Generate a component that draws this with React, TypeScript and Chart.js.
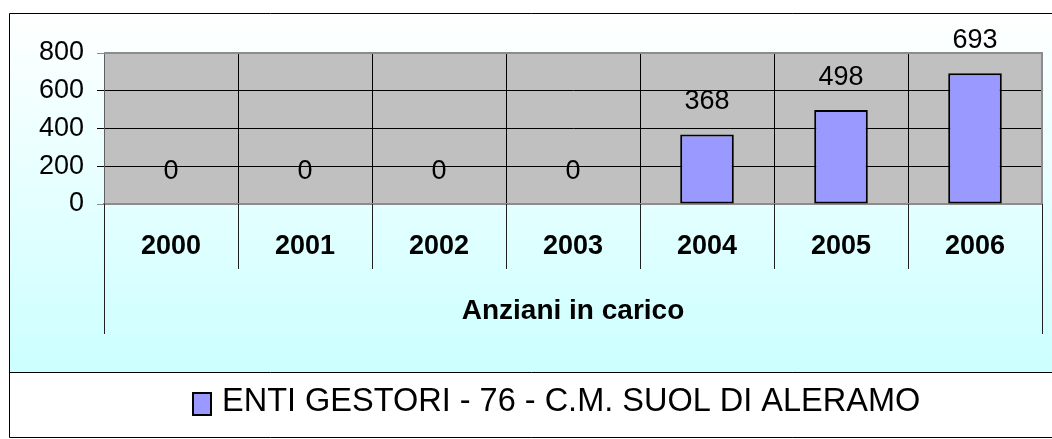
import React, { useEffect, useRef } from "react";
import { Chart, registerables } from "chart.js";

Chart.register(...registerables);

const categories = ["2000", "2001", "2002", "2003", "2004", "2005", "2006"];
const values = [0, 0, 0, 0, 368, 498, 693];
const seriesLabel = "ENTI GESTORI - 76 - C.M. SUOL DI ALERAMO";
const groupTitle = "Anziani in carico";
const yMin = 0;
const yMax = 800;
const yStep = 200;

const FONT = "'Liberation Sans', Arial, Helvetica, sans-serif";
const BAR_FILL = "#9999ff";
const PLOT_FILL = "#c0c0c0";

const framePlugin = {
  id: "frame",
  beforeDraw(chart: any) {
    const { ctx, width, height, chartArea } = chart;
    ctx.save();
    ctx.fillStyle = "#ffffff";
    ctx.fillRect(0, 0, width, height);
    const g = ctx.createLinearGradient(0, 13, 0, 372);
    g.addColorStop(0, "#ffffff");
    g.addColorStop(1, "#ccffff");
    ctx.fillStyle = g;
    ctx.fillRect(9.5, 13.5, width, 372 - 13.5);
    ctx.fillStyle = PLOT_FILL;
    ctx.fillRect(chartArea.left, chartArea.top, chartArea.right - chartArea.left, chartArea.bottom - chartArea.top);
    ctx.restore();
  },
  beforeDatasetsDraw(chart: any) {
    const { ctx, chartArea } = chart;
    ctx.save();
    ctx.strokeStyle = "#8c8c8c";
    ctx.lineWidth = 2;
    ctx.beginPath();
    ctx.moveTo(chartArea.left, chartArea.top);
    ctx.lineTo(chartArea.right, chartArea.top);
    ctx.lineTo(chartArea.right, chartArea.bottom);
    ctx.stroke();
    ctx.restore();
  },
  afterDatasetsDraw(chart: any) {
    const { ctx } = chart;
    const meta = chart.getDatasetMeta(0);
    ctx.save();
    ctx.font = `27px ${FONT}`;
    ctx.fillStyle = "#000";
    ctx.textAlign = "center";
    ctx.textBaseline = "alphabetic";
    meta.data.forEach((bar: any, i: number) => {
      ctx.fillText(String(values[i]), bar.x, bar.y - 25.5);
    });
    ctx.restore();
  },
  afterDraw(chart: any) {
    const { ctx, width, chartArea } = chart;
    const xs = chart.scales.x;
    ctx.save();
    ctx.strokeStyle = "#202020";
    ctx.lineWidth = 1;
    const n = categories.length;
    const bounds: number[] = [];
    for (let i = 0; i <= n; i++) {
      if (i === 0) bounds.push(chartArea.left);
      else if (i === n) bounds.push(chartArea.right);
      else bounds.push((xs.getPixelForValue(i - 1) + xs.getPixelForValue(i)) / 2);
    }
    bounds.forEach((bx, i) => {
      const x = Math.round(bx) + 0.5;
      const bottom = i === 0 || i === n ? 334 : 269;
      ctx.beginPath();
      ctx.moveTo(x, chartArea.bottom);
      ctx.lineTo(x, bottom);
      ctx.stroke();
    });
    ctx.strokeStyle = "#000";
    ctx.beginPath();
    ctx.moveTo(width + 2, 13.5);
    ctx.lineTo(9.5, 13.5);
    ctx.lineTo(9.5, 437.5);
    ctx.lineTo(width + 2, 437.5);
    ctx.moveTo(9.5, 372.5);
    ctx.lineTo(width + 2, 372.5);
    ctx.stroke();
    const ds = chart.data.datasets[0];
    ctx.fillStyle = BAR_FILL;
    ctx.fillRect(193, 393, 18, 22);
    ctx.strokeStyle = "#000";
    ctx.lineWidth = 2;
    ctx.strokeRect(193, 393, 18, 22);
    ctx.fillStyle = "#000";
    ctx.font = `32.5px ${FONT}`;
    ctx.textAlign = "left";
    ctx.textBaseline = "alphabetic";
    ctx.fillText(ds.label, 222, 411);
    ctx.restore();
  },
};

export default function App() {
  const ref = useRef<HTMLCanvasElement>(null);

  useEffect(() => {
    if (!ref.current) return;
    const chart = new Chart(ref.current, {
      type: "bar",
      data: {
        labels: categories,
        datasets: [
          {
            label: seriesLabel,
            data: values,
            backgroundColor: BAR_FILL,
            borderColor: "#000",
            borderWidth: (c: any) => (c.raw === 0 ? 0 : 2),
            borderSkipped: false,
            barPercentage: 0.4,
            categoryPercentage: 1,
          },
        ],
      },
      plugins: [framePlugin],
      options: {
        responsive: false,
        animation: false,
        devicePixelRatio: 1,
        layout: { padding: { top: 53, left: 0, right: 10, bottom: 0 } },
        plugins: {
          legend: { display: false },
          tooltip: { enabled: false },
        },
        scales: {
          x: {
            offset: true,
            grid: {
              display: true,
              color: "#000",
              lineWidth: 1,
              drawTicks: false,
              offset: true,
            },
            border: { display: true, color: "#8c8c8c", width: 2 },
            ticks: {
              color: "#000",
              font: { family: FONT, size: 27, weight: "bold" },
              padding: 26.5,
              maxRotation: 0,
              autoSkip: false,
            },
            title: {
              display: true,
              text: groupTitle,
              color: "#000",
              font: { family: FONT, size: 28, weight: "bold" },
              padding: { top: 0, bottom: 111 },
            },
            afterFit: (scale: any) => {
              scale.height = 235;
            },
          },
          y: {
            min: yMin,
            max: yMax,
            grid: {
              color: (c: any) =>
                c.tick && (c.tick.value === yMin || c.tick.value === yMax) ? "#8c8c8c" : "#000",
              lineWidth: 1,
              drawTicks: true,
              tickLength: 7,
            },
            border: { display: true, color: "#606060", width: 1 },
            ticks: {
              stepSize: yStep,
              color: "#000",
              font: { family: FONT, size: 27 },
              padding: 13,
            },
            afterFit: (scale: any) => {
              scale.width = 104;
            },
          },
        },
      },
    });
    return () => chart.destroy();
  }, []);

  return (
    <div style={{ position: "absolute", left: 0, top: 0, width: 1052, height: 439 }}>
      <canvas ref={ref} width={1052} height={439} style={{ display: "block" }} />
    </div>
  );
}
